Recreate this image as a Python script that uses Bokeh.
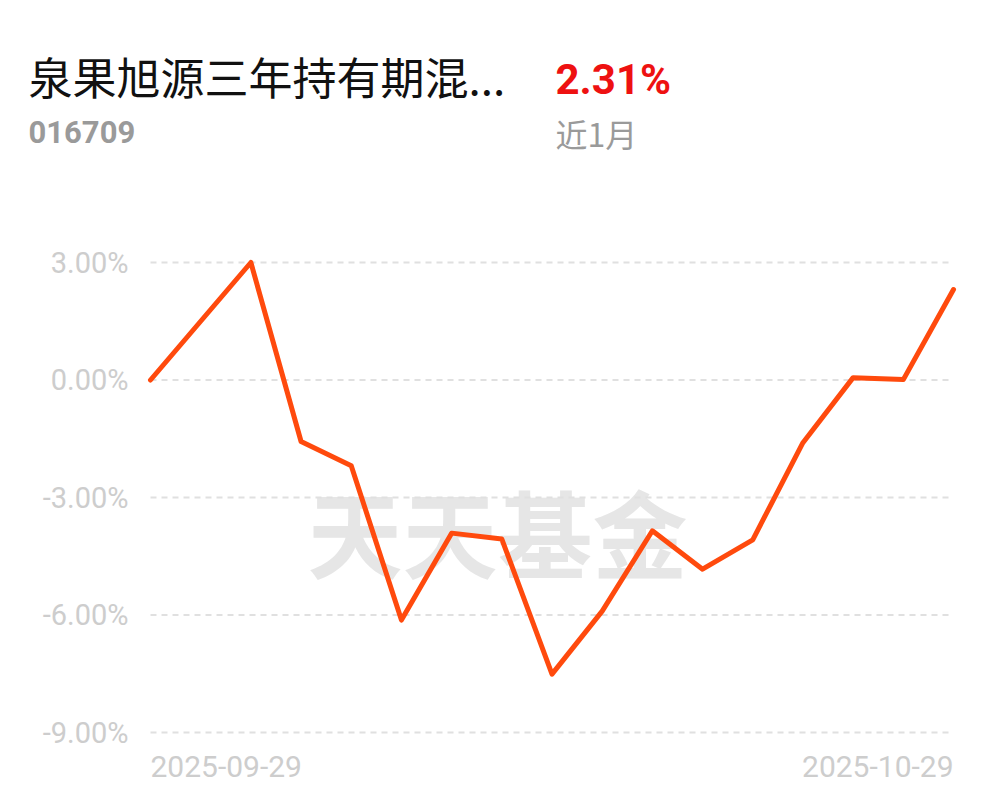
from bokeh.plotting import figure
from bokeh.models import Range1d, ColumnDataSource
from bokeh.core.properties import value
from bokeh.embed import file_html
from bokeh.resources import INLINE

# ---- data ----
dates = ["2025-09-29", "2025-09-30", "2025-10-09", "2025-10-10", "2025-10-13",
         "2025-10-14", "2025-10-15", "2025-10-16", "2025-10-17", "2025-10-20",
         "2025-10-21", "2025-10-22", "2025-10-23", "2025-10-24", "2025-10-27",
         "2025-10-28", "2025-10-29"]
returns = [0.00, 1.50, 3.00, -1.57, -2.19, -6.13, -3.91, -4.06, -7.51, -5.90,
           -3.85, -4.83, -4.08, -1.60, 0.06, 0.01, 2.31]
y_ticks = [3.0, 0.0, -3.0, -6.0, -9.0]
y_tick_labels = ["3.00%", "0.00%", "-3.00%", "-6.00%", "-9.00%"]
x_tick_labels = [dates[0], dates[-1]]
fund_name = "泉果旭源三年持有期混..."
fund_code = "016709"
period_return = "2.31%"
period_name = "近1月"
watermark = "天天基金"

# ---- layout (pixel geometry of the canvas) ----
W, H = 981, 786
X0_PX, DX_PX = 150.0, 803.0 / 16      # pixel of first point, pixels per step
Y0_PX, DY_PX = 379.5, 470.0 / 12      # pixel of 0%, pixels per 1%

def px_x(px):
    return (px - X0_PX) / DX_PX

def px_y(py):
    return (Y0_PX - py) / DY_PX

p = figure(width=W, height=H, output_backend="svg", toolbar_location=None,
           x_axis_type=None, y_axis_type=None, min_border=0,
           x_range=Range1d(px_x(0), px_x(W)), y_range=Range1d(px_y(H), px_y(0)))
p.outline_line_color = None
p.xgrid.visible = False
p.ygrid.visible = False
p.background_fill_color = "white"
p.border_fill_color = "white"

n = len(returns)
xs = list(range(n))

# watermark
p.text(x=[px_x(497)], y=[px_y(530)], text=[watermark],
       text_font=value("Noto Sans CJK SC"), text_font_style="bold",
       text_font_size="95px", text_color="#e6e6e6",
       text_align="center", text_baseline="middle")

# dashed grid lines
p.segment(x0=[0] * len(y_ticks), x1=[n - 1] * len(y_ticks), y0=y_ticks, y1=y_ticks,
          line_color="#e0e0e0", line_width=2, line_dash="6 5")

# y tick labels
p.text(x=[0] * len(y_ticks), y=y_ticks, text=y_tick_labels, x_offset=-22,
       text_font=value("Roboto"), text_font_size="29px", text_color="#cdcdcd",
       text_align="right", text_baseline="middle")

# x tick labels
p.text(x=[0], y=[y_ticks[-1]], text=[x_tick_labels[0]], y_offset=34,
       text_font=value("Roboto"), text_font_size="30px", text_color="#cdcdcd",
       text_align="left", text_baseline="middle")
p.text(x=[n - 1], y=[y_ticks[-1]], text=[x_tick_labels[1]], y_offset=34,
       text_font=value("Roboto"), text_font_size="30px", text_color="#cdcdcd",
       text_align="right", text_baseline="middle")

# main line
src = ColumnDataSource(dict(x=xs, y=returns, date=dates))
p.line("x", "y", source=src, line_color="#FF4A0D", line_width=5,
       line_join="round", line_cap="round")

# header texts
p.text(x=[px_x(28)], y=[px_y(75)], text=[fund_name],
       text_font=value("Noto Sans CJK SC"), text_font_size="44px", text_color="#111111",
       text_align="left", text_baseline="middle")
p.text(x=[px_x(28)], y=[px_y(131)], text=[fund_code],
       text_font=value("Roboto"),
       text_font_style="bold", text_font_size="31px", text_color="#9a9a9a",
       text_align="left", text_baseline="middle")
p.text(x=[px_x(555)], y=[px_y(79)], text=[period_return],
       text_font=value("Roboto"),
       text_font_style="bold", text_font_size="42px", text_color="#EE1111",
       text_align="left", text_baseline="middle")
p.text(x=[px_x(555)], y=[px_y(132)], text=[period_name],
       text_font=value("Noto Sans CJK SC"), text_font_size="32px", text_color="#9a9a9a",
       text_align="left", text_baseline="middle")

open("out.html", "w").write(file_html(p, INLINE))
